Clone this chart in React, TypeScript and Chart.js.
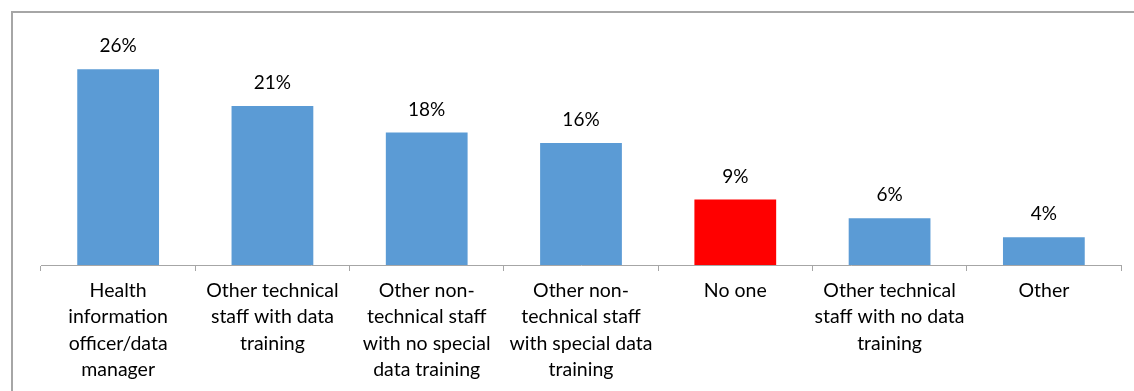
import React, { useEffect, useRef } from "react";
import { Chart, registerables } from "chart.js";

Chart.register(...registerables);

const categories: string[][] = [
  ["Health", "information", "officer/data", "manager"],
  ["Other technical", "staff with data", "training"],
  ["Other non-", "technical staff", "with no special", "data training"],
  ["Other non-", "technical staff", "with special data", "training"],
  ["No one"],
  ["Other technical", "staff with no data", "training"],
  ["Other"],
];

const shares: number[] = [26, 21.1, 17.6, 16.2, 8.7, 6.2, 3.7];

const barColors: string[] = [
  "#5B9BD5",
  "#5B9BD5",
  "#5B9BD5",
  "#5B9BD5",
  "#FF0000",
  "#5B9BD5",
  "#5B9BD5",
];

const FONT = "Lato, 'Open Sans', sans-serif";

const valueLabels = {
  id: "valueLabels",
  afterDatasetsDraw(chart: any) {
    const ctx = chart.ctx;
    const meta = chart.getDatasetMeta(0);
    ctx.save();
    ctx.font = `19px ${FONT}`;
    ctx.fillStyle = "#000";
    ctx.textAlign = "center";
    ctx.textBaseline = "middle";
    meta.data.forEach((bar: any, i: number) => {
      const v = chart.data.datasets[0].data[i] as number;
      ctx.fillText(`${Math.round(v)}%`, bar.x, bar.y - 23);
    });
    ctx.restore();
  },
};

export default function App() {
  const ref = useRef<HTMLCanvasElement>(null);

  useEffect(() => {
    document.body.style.margin = "0";
    if (!ref.current) return;
    const chart = new Chart(ref.current, {
      type: "bar",
      data: {
        labels: categories,
        datasets: [
          {
            data: shares,
            backgroundColor: barColors,
            borderWidth: 0,
            barPercentage: 0.53,
            categoryPercentage: 1,
          },
        ],
      },
      options: {
        animation: false,
        responsive: false,
        maintainAspectRatio: false,
        layout: { padding: { left: 41, right: 13, top: 39, bottom: 0 } },
        plugins: {
          legend: { display: false },
          tooltip: { enabled: false },
        },
        scales: {
          y: {
            display: false,
            min: 0,
            max: 30,
          },
          x: {
            offset: true,
            afterFit: (scale: any) => {
              scale.height = 126;
            },
            border: { display: true, color: "#A6A6A6", width: 1 },
            grid: {
              offset: true,
              drawOnChartArea: false,
              drawTicks: true,
              tickLength: 6,
              color: "#A6A6A6",
            },
            ticks: {
              color: "#000",
              padding: 7,
              maxRotation: 0,
              autoSkip: false,
              font: { family: FONT, size: 19.5, lineHeight: 1.34 },
            },
          },
        },
      },
      plugins: [valueLabels],
    });
    return () => chart.destroy();
  }, []);

  return (
    <div style={{ position: "relative", width: 1134, height: 391, overflow: "hidden", background: "#fff" }}>
      <div
        style={{
          position: "absolute",
          left: 11,
          top: 11,
          width: 1200,
          height: 500,
          borderLeft: "2px solid #A6A6A6",
          borderTop: "2px solid #A6A6A6",
        }}
      />
      <canvas ref={ref} width={1134} height={391} style={{ position: "absolute", left: 0, top: 0 }} />
    </div>
  );
}
